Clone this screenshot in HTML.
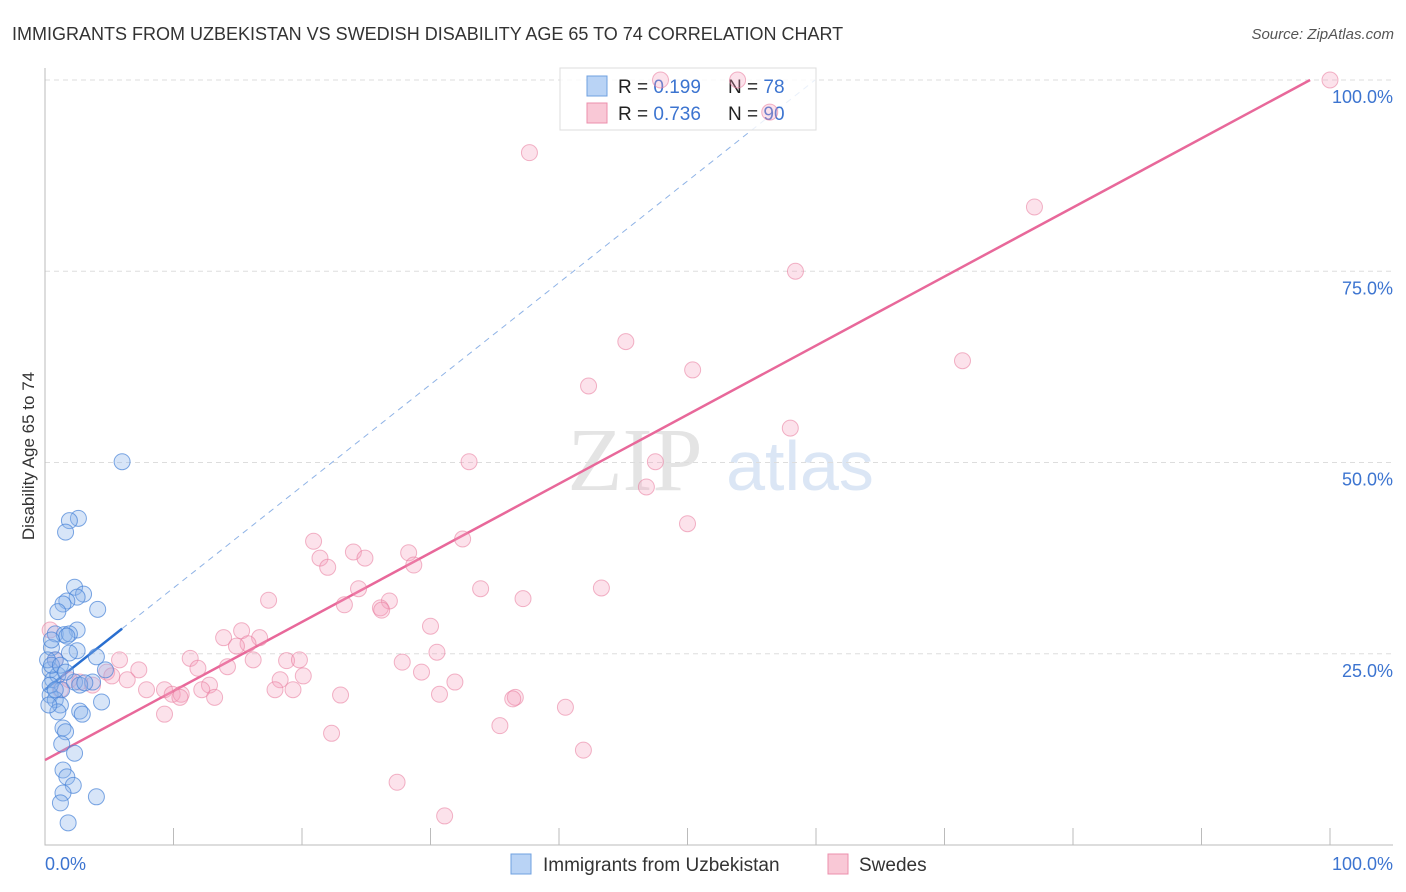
<!DOCTYPE html>
<html><head><meta charset="utf-8"><style>
body{margin:0;background:#fff;font-family:"Liberation Sans",sans-serif;}
svg{display:block}
</style></head><body>
<svg id="c" width="1406" height="892" xmlns="http://www.w3.org/2000/svg">
<text x="12" y="40" font-size="18" fill="#333">IMMIGRANTS FROM UZBEKISTAN VS SWEDISH DISABILITY AGE 65 TO 74 CORRELATION CHART</text>
<text x="1394" y="39" font-size="15" fill="#555" text-anchor="end" font-style="italic">Source: ZipAtlas.com</text>
<text x="34" y="456" font-size="17" fill="#333" text-anchor="middle" transform="rotate(-90 34 456)">Disability Age 65 to 74</text>
<text x="635" y="490" font-size="90" fill="#e4e4e4" font-family="Liberation Serif" text-anchor="middle">ZIP</text>
<text x="800" y="490" font-size="70" fill="#dbe6f5" text-anchor="middle">atlas</text>
<g id="grid"></g><g id="lines"></g>
<g>
<rect x="560" y="68" width="256" height="62" fill="rgba(255,255,255,0.8)" stroke="#ddd"/>
<rect x="587" y="76" width="20" height="20" fill="#b9d3f5" stroke="#6fa0e0"/>
<rect x="587" y="103" width="20" height="20" fill="#f9c8d6" stroke="#ec8fac"/>
<text x="618" y="93" font-size="19" fill="#222">R = <tspan fill="#3c74d0">0.199</tspan></text>
<text x="728" y="93" font-size="19" fill="#222">N = <tspan fill="#3c74d0">78</tspan></text>
<text x="618" y="120" font-size="19" fill="#222">R = <tspan fill="#3c74d0">0.736</tspan></text>
<text x="728" y="120" font-size="19" fill="#222">N = <tspan fill="#3c74d0">90</tspan></text>
</g>
<g id="pts"></g>
<g>
<rect x="511" y="854" width="20" height="20" fill="#b9d3f5" stroke="#6fa0e0"/>
<text x="543" y="871" font-size="19" fill="#333">Immigrants from Uzbekistan</text>
<rect x="828" y="854" width="20" height="20" fill="#f9c8d6" stroke="#ec8fac"/>
<text x="859" y="871" font-size="19" fill="#333">Swedes</text>
</g>
</svg>
<script>
const yTicks=[25,50,75,100];
const yTickLabels=["25.0%","50.0%","75.0%","100.0%"];
const xTicks=[10,20,30,40,50,60,70,80,90,100];
const blueX=[6.0,2.6,1.9,1.6,2.3,3.0,2.5,1.7,1.4,4.1,1.0,2.5,0.8,1.5,1.9,1.7,2.5,1.9,4.0,0.5,0.8,0.4,0.6,1.0,1.3,0.4,0.8,4.7,3.7,2.3,2.7,3.1,4.4,1.2,1.0,2.7,2.9,1.4,1.6,1.3,2.3,1.4,1.7,2.2,1.4,1.2,4.0,1.8,0.2,0.5,0.4,0.8,1.2,1.6,0.5,0.3];
const blueY=[50.1,42.7,42.4,40.9,33.7,32.8,32.4,31.9,31.5,30.8,30.5,28.1,27.6,27.5,27.6,27.3,25.4,25.1,24.6,25.8,24.2,22.9,21.6,22.2,20.3,19.6,19.0,22.9,21.3,21.3,20.9,21.2,18.7,18.3,17.4,17.5,17.1,15.3,14.8,13.2,12.0,9.8,8.9,7.8,6.8,5.5,6.3,2.9,24.2,23.5,20.9,20.3,23.5,22.6,26.8,18.3];
const pinkX=[100,47.9,53.9,56.4,37.7,77.0,58.4,45.2,71.4,50.4,42.3,58.0,33.0,47.5,46.8,50.0,32.5,20.9,24.0,28.3,24.9,21.4,22.0,28.7,24.4,33.9,43.3,17.4,26.8,37.2,23.3,26.1,26.2,30.0,15.3,13.9,16.7,15.8,14.9,30.5,11.3,18.8,19.8,16.2,5.8,27.8,11.9,14.2,7.3,4.8,5.2,20.1,29.3,18.3,31.9,6.4,12.8,3.7,9.3,7.9,9.9,10.6,12.2,17.9,19.3,23.0,13.2,10.5,30.7,36.6,36.4,40.5,9.3,35.4,22.3,41.9,27.4,31.1,0.4,0.8,1.2,1.9,2.7];
const pinkY=[100,100,100,95.8,90.5,83.4,75.0,65.8,63.3,62.1,60.0,54.5,50.1,50.1,46.8,42.0,40.0,39.7,38.3,38.2,37.5,37.5,36.3,36.6,33.5,33.5,33.6,32.0,31.9,32.2,31.4,31.0,30.7,28.6,28.0,27.1,27.1,26.3,26.0,25.2,24.4,24.1,24.2,24.2,24.2,23.9,23.1,23.3,22.9,22.6,22.1,22.1,22.6,21.6,21.3,21.6,20.9,20.9,20.3,20.3,19.7,19.7,20.3,20.3,20.3,19.6,19.3,19.3,19.7,19.3,19.1,18.0,17.1,15.6,14.6,12.4,8.2,3.8,28.1,24.2,20.3,21.6,21.3];
const blueTrend=[20.3,1.33];
const pinkTrend=[11.1,0.903];
const NS="http://www.w3.org/2000/svg";
const X=v=>45+v*12.85, Y=v=>845-v*7.65;
function mk(t,a,p){const e=document.createElementNS(NS,t);for(const k in a)e.setAttribute(k,a[k]);p.appendChild(e);return e;}
const grid=document.getElementById('grid'),pts=document.getElementById('pts'),lines=document.getElementById('lines');
yTicks.forEach((t,i)=>{
 const l=mk('line',{x1:45,x2:1393,y1:Y(t),y2:Y(t),stroke:'#ddd','stroke-dasharray':'5,4'},grid);
 
 
 const tx=mk('text',{x:1393,y:Y(t)+23,'font-size':18,fill:'#3c74d0','text-anchor':'end'},grid);
 tx.textContent=yTickLabels[i];
 
 
});
const ax=mk('path',{d:'M45 68V845H1393',stroke:'#bbb',fill:'none'},grid);


xTicks.forEach(t=>{
 const l=mk('line',{x1:X(t),x2:X(t),y1:828,y2:845,stroke:'#bbb'},grid);
 
 
});
[[45,'start','0.0%'],[1393,'end','100.0%']].forEach(([x,a,s])=>{
 const t=mk('text',{x:x,y:870,'font-size':18,fill:'#3c74d0','text-anchor':a},grid);t.textContent=s;
 
 
});
pinkX.forEach((v,i)=>{
 const c=mk('circle',{cx:X(v),cy:Y(pinkY[i]),r:8,fill:'rgba(244,160,188,0.3)',stroke:'rgba(232,120,155,0.55)','stroke-width':1},pts);
 
 
});
blueX.forEach((v,i)=>{
 const c=mk('circle',{cx:X(v),cy:Y(blueY[i]),r:8,fill:'rgba(140,180,235,0.35)',stroke:'rgba(70,130,215,0.7)','stroke-width':1},pts);
 
 
});
const bx1=(100-blueTrend[0])/blueTrend[1];
let l=mk('line',{x1:X(6),y1:Y(blueTrend[0]+6*blueTrend[1]),x2:X(bx1),y2:Y(100),stroke:'#8fb3e6','stroke-dasharray':'6,5','stroke-width':1},lines);


l=mk('line',{x1:X(0),y1:Y(blueTrend[0]),x2:X(6),y2:Y(blueTrend[0]+6*blueTrend[1]),stroke:'#2a6fd0','stroke-width':2.5},lines);


const px1=(100-pinkTrend[0])/pinkTrend[1];
l=mk('line',{x1:X(0),y1:Y(pinkTrend[0]),x2:X(px1),y2:Y(100),stroke:'#e8689a','stroke-width':2.5},lines);


</script>
</body></html>
